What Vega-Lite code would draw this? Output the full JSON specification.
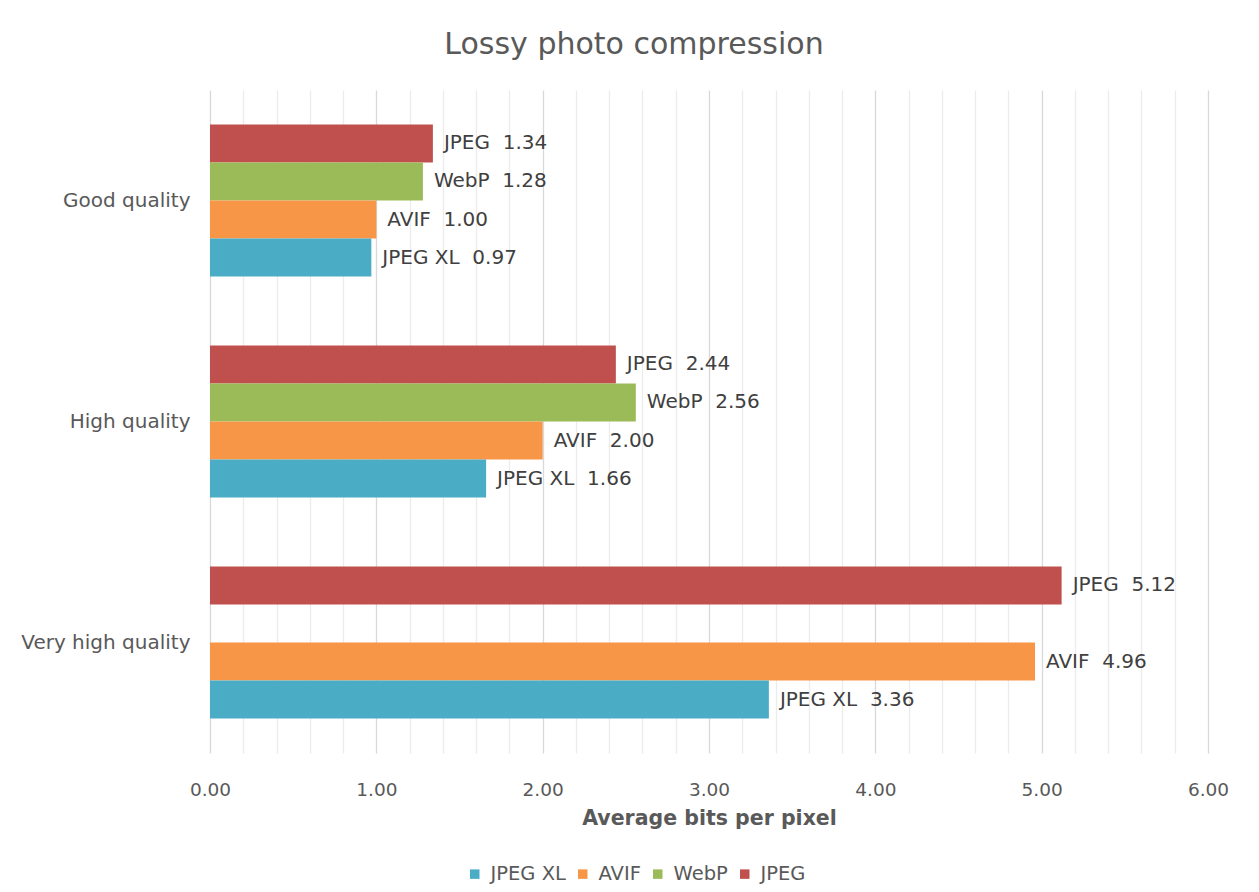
{
  "$schema": "https://vega.github.io/schema/vega-lite/v6.json",
  "width": 998,
  "height": 663,
  "autosize": {"type": "none"},
  "padding": {"left": 210, "top": 90, "right": 51, "bottom": 139},
  "background": "white",
  "config": {
    "font": "DejaVu Sans",
    "view": {"stroke": null}
  },
  "title": {
    "text": "Lossy photo compression",
    "fontSize": 30,
    "fontWeight": "normal",
    "color": "#595959",
    "anchor": "middle",
    "frame": "group",
    "dx": -75,
    "offset": 30
  },
  "data": {
    "values": [
      {"quality": "Good quality", "codec": "JPEG", "bpp": 1.34},
      {"quality": "Good quality", "codec": "WebP", "bpp": 1.28},
      {"quality": "Good quality", "codec": "AVIF", "bpp": 1.00},
      {"quality": "Good quality", "codec": "JPEG XL", "bpp": 0.97},
      {"quality": "High quality", "codec": "JPEG", "bpp": 2.44},
      {"quality": "High quality", "codec": "WebP", "bpp": 2.56},
      {"quality": "High quality", "codec": "AVIF", "bpp": 2.00},
      {"quality": "High quality", "codec": "JPEG XL", "bpp": 1.66},
      {"quality": "Very high quality", "codec": "JPEG", "bpp": 5.12},
      {"quality": "Very high quality", "codec": "AVIF", "bpp": 4.96},
      {"quality": "Very high quality", "codec": "JPEG XL", "bpp": 3.36}
    ]
  },
  "transform": [
    {"calculate": "datum.codec + '\u00a0\u00a0' + format(datum.bpp, '.2f')", "as": "label"}
  ],
  "encoding": {
    "y": {
      "field": "quality",
      "type": "nominal",
      "sort": ["Good quality", "High quality", "Very high quality"],
      "scale": {"paddingInner": 0.312, "paddingOuter": 0.156},
      "axis": {
        "title": null,
        "domain": false,
        "ticks": false,
        "labelFontSize": 20,
        "labelColor": "#595959",
        "labelPadding": 20
      }
    },
    "yOffset": {
      "field": "codec",
      "type": "nominal",
      "sort": ["JPEG", "WebP", "AVIF", "JPEG XL"],
      "scale": {"paddingInner": 0, "paddingOuter": 0}
    },
    "x": {
      "field": "bpp",
      "type": "quantitative",
      "scale": {"domain": [0, 6], "nice": false},
      "axis": {
        "title": "Average bits per pixel",
        "titleFontSize": 20.5,
        "titleFontWeight": "bold",
        "titleColor": "#595959",
        "titlePadding": 10,
        "values": [0, 0.2, 0.4, 0.6, 0.8, 1, 1.2, 1.4, 1.6, 1.8, 2, 2.2, 2.4, 2.6, 2.8, 3, 3.2, 3.4, 3.6, 3.8, 4, 4.2, 4.4, 4.6, 4.8, 5, 5.2, 5.4, 5.6, 5.8, 6],
        "labelExpr": "datum.value % 1 === 0 ? format(datum.value, '.2f') : ''",
        "labelOverlap": false,
        "labelFlush": false,
        "labelFontSize": 18.5,
        "labelColor": "#595959",
        "labelPadding": 27,
        "domain": false,
        "ticks": false,
        "grid": true,
        "gridColor": {"condition": {"test": "datum.value % 1 === 0", "value": "#d9d9d9"}, "value": "#ececec"},
        "gridWidth": 1.3
      }
    }
  },
  "layer": [
    {
      "mark": {"type": "bar"},
      "encoding": {
        "color": {
          "field": "codec",
          "type": "nominal",
          "scale": {
            "domain": ["JPEG XL", "AVIF", "WebP", "JPEG"],
            "range": ["#4bacc6", "#f79646", "#9bbb59", "#c0504d"]
          },
          "legend": {
            "title": null,
            "orient": "none",
            "direction": "horizontal",
            "legendX": 255,
            "legendY": 774,
            "symbolType": "square",
            "symbolSize": 90,
            "symbolStrokeWidth": 0,
            "labelFontSize": 19.5,
            "labelColor": "#595959",
            "labelOffset": 6,
            "columnPadding": 7
          }
        }
      }
    },
    {
      "mark": {"type": "text", "align": "left", "baseline": "middle", "dx": 11, "fontSize": 20, "color": "#404040"},
      "encoding": {
        "text": {"field": "label"}
      }
    }
  ]
}
